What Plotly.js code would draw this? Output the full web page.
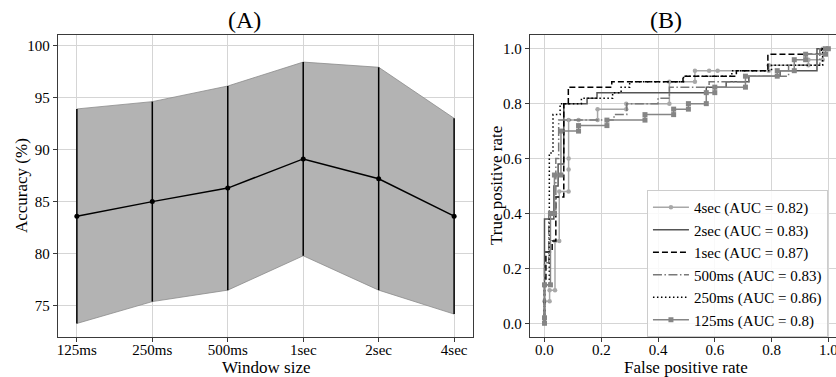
<!DOCTYPE html>
<html>
<head>
<meta charset="utf-8">
<script src="https://cdn.plot.ly/plotly-3.0.1.min.js"></script>
<style>html,body{margin:0;padding:0;background:#fff;}#chart{width:836px;height:377px;}</style>
</head>
<body>
<div id="chart"></div>
<script>
// ---------- Panel A data ----------
var windows = ['125ms', '250ms', '500ms', '1sec', '2sec', '4sec'];
var accMean = [83.6, 85.0, 86.3, 89.1, 87.2, 83.6];
var accStd  = [10.3, 9.6, 9.8, 9.3, 10.7, 9.4];
var yTicksA = [75, 80, 85, 90, 95, 100];

// ---------- Panel B data (ROC curves) ----------
var fpr4s = [0, 0, 0.018, 0.018, 0.037, 0.037, 0.052, 0.052, 0.085, 0.085, 0.085, 0.085, 0.12, 0.187, 0.187, 0.288, 0.288, 0.44, 0.44, 0.53, 0.53, 0.58, 0.61, 0.79, 0.79, 0.93, 0.93, 0.98, 0.98, 1];
var tpr4s = [0, 0.08, 0.08, 0.12, 0.12, 0.30, 0.30, 0.48, 0.48, 0.56, 0.60, 0.74, 0.74, 0.74, 0.78, 0.78, 0.80, 0.80, 0.88, 0.88, 0.92, 0.92, 0.92, 0.92, 0.94, 0.94, 0.96, 0.96, 1.0, 1.0];

var fpr2s = [0, 0, 0.033, 0.033, 0.048, 0.048, 0.068, 0.068, 0.15, 0.15, 0.185, 0.185, 0.57, 0.57, 0.64, 0.64, 0.72, 0.72, 0.83, 0.83, 0.96, 0.96, 1];
var tpr2s = [0, 0.38, 0.38, 0.50, 0.50, 0.58, 0.58, 0.80, 0.80, 0.82, 0.82, 0.84, 0.84, 0.86, 0.86, 0.88, 0.88, 0.90, 0.90, 0.92, 0.92, 1.0, 1.0];

var fpr1s = [0, 0, 0.005, 0.005, 0.027, 0.027, 0.04, 0.04, 0.068, 0.068, 0.084, 0.084, 0.237, 0.237, 0.488, 0.488, 0.676, 0.676, 0.787, 0.787, 0.975, 0.975, 1];
var tpr1s = [0, 0.14, 0.14, 0.26, 0.26, 0.30, 0.30, 0.46, 0.46, 0.80, 0.80, 0.86, 0.86, 0.88, 0.88, 0.90, 0.90, 0.92, 0.92, 0.98, 0.98, 1.0, 1.0];

var fpr500 = [0, 0, 0.015, 0.015, 0.04, 0.04, 0.05, 0.05, 0.245, 0.245, 0.29, 0.29, 0.40, 0.40, 0.44, 0.44, 0.58, 0.58, 0.72, 0.72, 0.86, 0.86, 0.97, 0.97, 1];
var tpr500 = [0, 0.22, 0.22, 0.40, 0.40, 0.60, 0.60, 0.74, 0.74, 0.76, 0.76, 0.80, 0.80, 0.82, 0.82, 0.86, 0.86, 0.88, 0.88, 0.90, 0.90, 0.94, 0.94, 1.0, 1.0];

var fpr250 = [0, 0, 0.017, 0.017, 0.03, 0.03, 0.055, 0.055, 0.13, 0.13, 0.24, 0.24, 0.27, 0.27, 0.30, 0.30, 0.49, 0.49, 0.66, 0.66, 0.80, 0.80, 0.98, 0.98, 1];
var tpr250 = [0, 0.14, 0.14, 0.62, 0.62, 0.76, 0.76, 0.80, 0.80, 0.82, 0.82, 0.84, 0.84, 0.86, 0.86, 0.88, 0.88, 0.90, 0.90, 0.92, 0.92, 0.94, 0.94, 1.0, 1.0];

var fpr125 = [0, 0, 0, 0.021, 0.021, 0.035, 0.035, 0.058, 0.058, 0.12, 0.12, 0.22, 0.22, 0.354, 0.354, 0.455, 0.455, 0.507, 0.507, 0.57, 0.57, 0.60, 0.60, 0.708, 0.708, 0.82, 0.82, 0.88, 0.88, 0.92, 0.92, 0.99, 0.99, 1];
var tpr125 = [0, 0.02, 0.14, 0.14, 0.40, 0.40, 0.54, 0.54, 0.70, 0.70, 0.72, 0.72, 0.74, 0.74, 0.76, 0.76, 0.78, 0.78, 0.80, 0.80, 0.84, 0.84, 0.86, 0.86, 0.90, 0.90, 0.92, 0.92, 0.96, 0.96, 0.98, 0.98, 1.0, 1.0];

var legendNames = ['4sec (AUC = 0.82)', '2sec (AUC = 0.83)', '1sec (AUC = 0.87)', '500ms (AUC = 0.83)', '250ms (AUC = 0.86)', '125ms (AUC = 0.8)'];
var bTicks = [0, 0.2, 0.4, 0.6, 0.8, 1.0];

// ---------- styling ----------
var FONT = 'Liberation Serif, Times New Roman, serif';
var GRID = '#d5d5d5';
var SPINE = '#3a3a3a';

var upper = accMean.map(function (m, i) { return m + accStd[i]; });
var lower = accMean.map(function (m, i) { return m - accStd[i]; });

var traces = [
  { x: windows, y: lower, xaxis: 'x', yaxis: 'y', mode: 'lines', line: { color: '#8c8c8c', width: 0.8 }, showlegend: false, hoverinfo: 'skip' },
  { x: windows, y: upper, xaxis: 'x', yaxis: 'y', mode: 'lines', fill: 'tonexty', fillcolor: '#b3b3b3', line: { color: '#8c8c8c', width: 0.8 }, showlegend: false, hoverinfo: 'skip' },
  { x: windows, y: accMean, xaxis: 'x', yaxis: 'y', mode: 'lines+markers', line: { color: '#000', width: 1.5 }, marker: { color: '#000', size: 5 },
    error_y: { type: 'data', array: accStd, visible: true, width: 0, thickness: 1.5, color: '#000' }, showlegend: false },

  { x: fpr4s, y: tpr4s, xaxis: 'x2', yaxis: 'y2', name: legendNames[0], mode: 'lines+markers', line: { color: '#a8a8a8', width: 1.5 }, marker: { color: '#a8a8a8', size: 4.5, symbol: 'circle' } },
  { x: fpr2s, y: tpr2s, xaxis: 'x2', yaxis: 'y2', name: legendNames[1], mode: 'lines', line: { color: '#555555', width: 1.5 } },
  { x: fpr1s, y: tpr1s, xaxis: 'x2', yaxis: 'y2', name: legendNames[2], mode: 'lines', line: { color: '#000000', width: 1.5, dash: '6px,3px' } },
  { x: fpr500, y: tpr500, xaxis: 'x2', yaxis: 'y2', name: legendNames[3], mode: 'lines', line: { color: '#787878', width: 1.5, dash: '9px,2.5px,1.5px,2.5px' } },
  { x: fpr250, y: tpr250, xaxis: 'x2', yaxis: 'y2', name: legendNames[4], mode: 'lines', line: { color: '#000000', width: 1.5, dash: '1.5px,2.5px' } },
  { x: fpr125, y: tpr125, xaxis: 'x2', yaxis: 'y2', name: legendNames[5], mode: 'lines+markers', line: { color: '#858585', width: 1.5 }, marker: { color: '#858585', size: 5, symbol: 'square' } }
];

var axisCommon = {
  showline: true, linecolor: SPINE, linewidth: 1.2,
  ticks: 'outside', ticklen: 4, tickwidth: 1, tickcolor: SPINE,
  showgrid: true, gridcolor: GRID, gridwidth: 1, zeroline: false,
  tickfont: { family: FONT, size: 15, color: '#000' }
};

function merge(a, b) { var o = {}; for (var k in a) o[k] = a[k]; for (var k2 in b) o[k2] = b[k2]; return o; }

// plot area: x 58..836, y 35..337 (302 px high, 778 px wide)
function px2x(px) { return (px - 58) / 778; }
function px2y(py) { return (337 - py) / 302; }

var titleFont = { family: FONT, size: 17, color: '#000' };
var headFont = { family: FONT, size: 24, color: '#000' };

var layout = {
  width: 836, height: 377,
  margin: { l: 58, r: 0, t: 35, b: 40 },
  paper_bgcolor: '#fff', plot_bgcolor: '#fff',
  font: { family: FONT, color: '#000' },
  xaxis: merge(axisCommon, { domain: [0, 0.5334], type: 'category', categoryorder: 'array', categoryarray: windows, range: [-0.25, 5.25], mirror: true, ticklabelstandoff: -5 }),
  yaxis: merge(axisCommon, { range: [72.0, 101.0], tickvals: yTicksA, mirror: true }),
  xaxis2: merge(axisCommon, { domain: [0.6067, 1], anchor: 'y2', range: [-0.051, 1.027], tickvals: bTicks, tickformat: '.1f', mirror: true, ticklabeloverflow: 'allow', ticklabelstandoff: -5 }),
  yaxis2: merge(axisCommon, { anchor: 'x2', range: [-0.05, 1.05], tickvals: bTicks, tickformat: '.1f', mirror: false }),
  legend: { x: 0.757, y: px2y(190), xanchor: 'left', yanchor: 'top', bgcolor: 'rgba(255,255,255,0.85)', bordercolor: '#cccccc', borderwidth: 1,
    font: { family: FONT, size: 15, color: '#000' }, traceorder: 'normal', itemwidth: 36 },
  annotations: [
    { text: '(A)', xref: 'paper', yref: 'paper', x: px2x(244), y: px2y(20), xanchor: 'center', yanchor: 'middle', showarrow: false, font: headFont },
    { text: '(B)', xref: 'paper', yref: 'paper', x: px2x(666), y: px2y(20), xanchor: 'center', yanchor: 'middle', showarrow: false, font: headFont },
    { text: 'Window size', xref: 'paper', yref: 'paper', x: px2x(266), y: px2y(367), xanchor: 'center', yanchor: 'middle', showarrow: false, font: titleFont },
    { text: 'False positive rate', xref: 'paper', yref: 'paper', x: px2x(686), y: px2y(367), xanchor: 'center', yanchor: 'middle', showarrow: false, font: titleFont },
    { text: 'Accuracy (%)', xref: 'paper', yref: 'paper', x: px2x(21), y: px2y(186), xanchor: 'center', yanchor: 'middle', textangle: -90, showarrow: false, font: titleFont },
    { text: 'True positive rate', xref: 'paper', yref: 'paper', x: px2x(496), y: px2y(186), xanchor: 'center', yanchor: 'middle', textangle: -90, showarrow: false, font: titleFont }
  ],
  showlegend: true
};

Plotly.newPlot('chart', traces, layout, { displayModeBar: false, staticPlot: true });
</script>
</body>
</html>
